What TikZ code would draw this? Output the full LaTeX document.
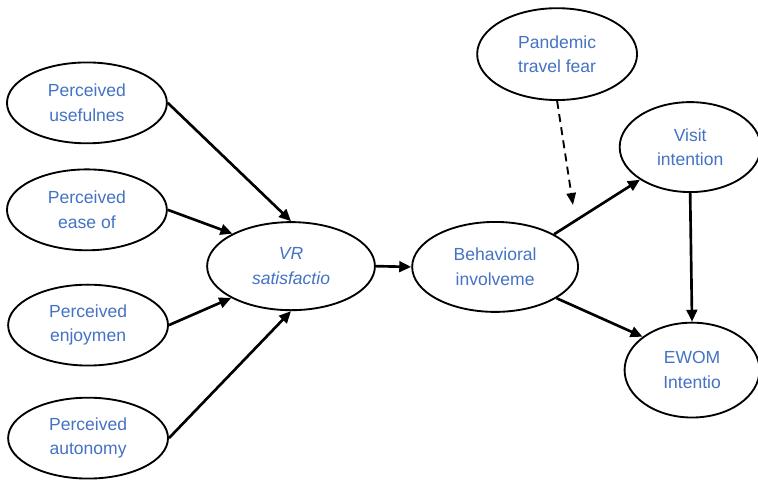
\documentclass[tikz,border=0pt]{standalone}
\usepackage{fontspec}
\setmainfont{Liberation Sans}
\usepackage{tikz}
\usetikzlibrary{shapes.geometric}
\usetikzlibrary{arrows.meta}
\definecolor{txtblue}{RGB}{68,114,196}

\begin{document}
\begin{tikzpicture}[
  construct/.style={draw, ellipse, line width=1.4pt, inner sep=0pt, fill=white, text=txtblue, align=center, font=\fontsize{13.2}{18.5}\selectfont},
  path/.style={-{Triangle[length=9pt,width=8pt]}, line width=2pt}
]
\useasboundingbox (0,0) rectangle (20.055,12.832);

\node[construct, minimum width=4.23cm, minimum height=2.14cm] (useful) at (2.30,10.11) {Perceived\\usefulnes};
\node[construct, minimum width=4.23cm, minimum height=2.14cm] (ease) at (2.30,7.28) {Perceived\\ease of};
\node[construct, minimum width=4.23cm, minimum height=2.14cm] (enjoy) at (2.33,4.23) {Perceived\\enjoymen};
\node[construct, minimum width=4.23cm, minimum height=2.14cm] (auto) at (2.33,1.24) {Perceived\\autonomy};

\node[construct, minimum width=4.44cm, minimum height=2.33cm] (vrsat) at (7.70,5.79) {\itshape VR\\\itshape satisfactio};
\node[construct, minimum width=4.39cm, minimum height=2.38cm] (behav) at (13.10,5.77) {Behavioral\\involveme};

\node[construct, minimum width=4.23cm, minimum height=2.43cm] (fear) at (14.74,11.40) {Pandemic\\travel fear};
\node[construct, minimum width=3.73cm, minimum height=2.38cm] (visit) at (18.26,8.94) {Visit\\intention};
\node[construct, minimum width=3.57cm, minimum height=2.51cm] (ewom) at (18.31,3.04) {EWOM\\Intentio};

\coordinate (moder) at (15.16,7.41);

\draw[path] (useful.east) -- (vrsat.north);
\draw[path] (ease.east) -- (vrsat.151);
\draw[path] (enjoy.east) -- (vrsat.208);
\draw[path] (auto.east) -- (vrsat.south);

\draw[path] (vrsat.east) -- (behav.west);

\draw[path] (behav.29) -- (visit.213);
\draw[path] (behav.-27) -- (ewom.146);
\draw[path] (visit.south) -- (ewom.north);

\draw[-{Triangle[length=9pt,width=7pt]}, line width=1.4pt, dash pattern=on 6pt off 4pt] (fear.south) -- (moder);
\end{tikzpicture}
\end{document}
